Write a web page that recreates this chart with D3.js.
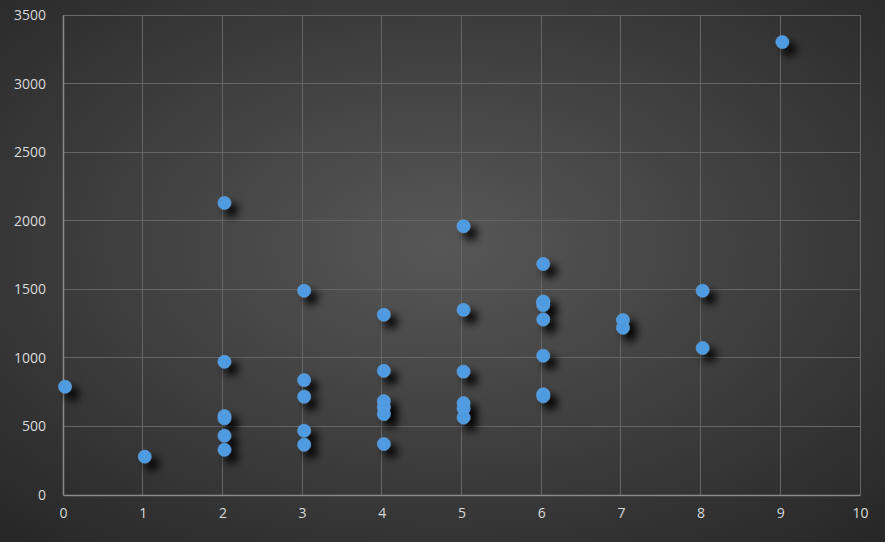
<!DOCTYPE html>
<html><head><meta charset="utf-8">
<script src="https://cdn.jsdelivr.net/npm/d3@7"></script>
<style>html,body{margin:0;padding:0;background:#333;}svg{display:block;}</style>
</head><body>
<svg id="c" width="885" height="542"></svg>
<script>
const xValues = [0,1,2,2,2,2,2,2,3,3,3,3,3,4,4,4,4,4,4,5,5,5,5,5,5,6,6,6,6,6,6,6,6,7,7,8,8,9];
const yValues = [790,280,2130,972,576,559,432,330,1490,838,717,469,367,1315,906,685,640,590,372,1960,1350,900,670,630,565,1685,1410,1385,1280,1016,735,720,1410,1276,1220,1490,1072,3303];
const xTicks = [0,1,2,3,4,5,6,7,8,9,10];
const yTicks = [0,500,1000,1500,2000,2500,3000,3500];

const W=885,H=542, m={l:63,r:25,t:15,b:47};
const svg=d3.select("#c");
const defs=svg.append("defs");
const rg=defs.append("radialGradient").attr("id","bg").attr("cx","50%").attr("cy","45%").attr("r","75%");
rg.append("stop").attr("offset","0%").attr("stop-color","#575757");
rg.append("stop").attr("offset","100%").attr("stop-color","#262626");
const f=defs.append("filter").attr("id","sh").attr("x","-100%").attr("y","-100%").attr("width","300%").attr("height","300%");
f.append("feGaussianBlur").attr("in","SourceAlpha").attr("stdDeviation","4").attr("result","b");
f.append("feOffset").attr("in","b").attr("dx","7").attr("dy","7").attr("result","o");
f.append("feComponentTransfer").attr("in","o").attr("result","o2").append("feFuncA").attr("type","linear").attr("slope","1");
const mg=f.append("feMerge"); mg.append("feMergeNode").attr("in","o2"); mg.append("feMergeNode").attr("in","SourceGraphic");

svg.append("rect").attr("width",W).attr("height",H).attr("fill","url(#bg)");

const x=d3.scaleLinear().domain([0,10]).range([m.l,W-m.r]);
const y=d3.scaleLinear().domain([0,3500]).range([H-m.b,m.t]);

const g=svg.append("g");
g.selectAll(".vg").data(xTicks.slice(1)).join("line")
 .attr("x1",d=>x(d)).attr("x2",d=>x(d)).attr("y1",y(0)).attr("y2",y(3500))
 .attr("stroke","#666").attr("stroke-width",1).attr("shape-rendering","crispEdges");
g.selectAll(".hg").data(yTicks.slice(1)).join("line")
 .attr("x1",x(0)).attr("x2",x(10)).attr("y1",d=>y(d)).attr("y2",d=>y(d))
 .attr("stroke","#666").attr("stroke-width",1).attr("shape-rendering","crispEdges");

const xa=svg.append("g").attr("transform",`translate(0,${y(0)})`)
 .call(d3.axisBottom(x).tickValues(xTicks).tickSize(0).tickPadding(13));
const ya=svg.append("g").attr("transform",`translate(${x(0)},0)`)
 .call(d3.axisLeft(y).tickValues(yTicks).tickSize(0).tickPadding(17).tickFormat(d3.format("d")));
[xa,ya].forEach(a=>{
 a.select(".domain").attr("stroke","#8a8a8a").attr("stroke-width",1.5);
 a.selectAll("text").attr("fill","#d9d9d9").attr("font-family","'Segoe UI','Open Sans',Arial,sans-serif").attr("font-size",14);
});

const pts=xValues.map((v,i)=>({x:v,y:yValues[i]}));
svg.append("g").attr("filter","url(#sh)").selectAll("circle").data(pts).join("circle")
 .attr("cx",d=>x(d.x)+2).attr("cy",d=>y(d.y)).attr("r",6.5)
 .attr("fill","#4f9be1").attr("stroke","#5fa5e6").attr("stroke-width",0.6);
</script>
</body></html>
